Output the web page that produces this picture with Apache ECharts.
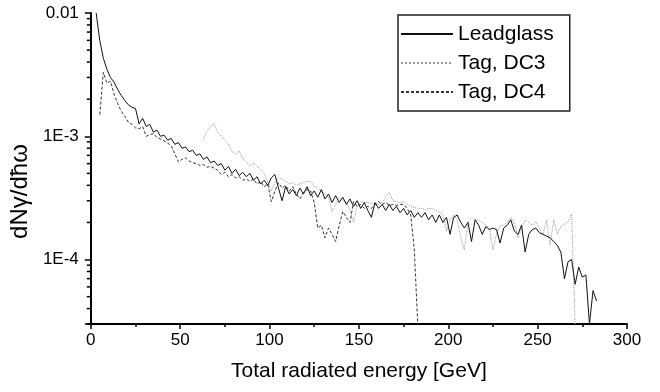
<!DOCTYPE html>
<html>
<head>
<meta charset="utf-8">
<script src="https://cdn.jsdelivr.net/npm/echarts@6/dist/echarts.min.js"></script>
<style>
html,body{margin:0;padding:0;background:#fff;}
#chart{width:660px;height:392px;}
</style>
</head>
<body>
<div id="chart"></div>
<script>
// ---- data ----
const seriesNames = ['Leadglass', 'Tag, DC3', 'Tag, DC4'];
const xTicks = [0, 50, 100, 150, 200, 250, 300];
const yTickLabels = {'-2': '0.01', '-3': '1E-3', '-4': '1E-4'};

const leadE = [
  3,5,7,9,11,13,15,17,19,21,
  23,25,27,29,31,33,35,37,39,41,
  43,45,47,49,51,53,55,57,59,61,
  63,65,67,69,71,73,75,77,79,81,
  83,85,87,89,91,93,95,97,99,101,
  103,105,107,109,111,113,115,117,119,121,
  123,125,127,129,131,133,135,137,139,141,
  143,145,147,149,151,153,155,157,159,161,
  163,165,167,169,171,173,175,177,179,181,
  183,185,187,189,191,193,195,197,199,201,
  203,205,207,209,211,213,215,217,219,221,
  223,225,227,229,231,233,235,237,239,241,
  243,245,247,249,251,253,255,257,259,261,
  263,265,267,269,271,273,275,277,279,281,
  283
];
const leadglass = [
  1.00e-2,6.0e-3,4.3e-3,3.5e-3,3.0e-3,2.75e-3,2.4e-3,2.15e-3,1.95e-3,1.80e-3,
  1.72e-3,1.68e-3,1.26e-3,1.40e-3,1.20e-3,1.25e-3,1.08e-3,1.12e-3,1.00e-3,1.02e-3,
  9.3e-4,9.6e-4,8.6e-4,8.9e-4,8.0e-4,8.2e-4,7.5e-4,7.7e-4,7.0e-4,7.2e-4,
  6.5e-4,6.8e-4,6.1e-4,6.3e-4,5.8e-4,6.0e-4,5.3e-4,5.7e-4,5.0e-4,5.4e-4,
  4.8e-4,5.1e-4,4.7e-4,5.0e-4,4.4e-4,4.7e-4,4.1e-4,4.4e-4,4.0e-4,4.6e-4,
  4.9e-4,3.8e-4,3.0e-4,3.9e-4,3.4e-4,3.7e-4,3.3e-4,3.8e-4,3.4e-4,3.9e-4,
  3.3e-4,3.6e-4,3.2e-4,3.7e-4,3.1e-4,3.4e-4,2.9e-4,3.3e-4,2.9e-4,3.2e-4,
  2.8e-4,3.1e-4,2.7e-4,3.0e-4,2.6e-4,2.9e-4,2.5e-4,2.2e-4,2.9e-4,2.6e-4,
  2.8e-4,2.5e-4,2.8e-4,2.5e-4,2.7e-4,2.4e-4,2.6e-4,2.3e-4,2.5e-4,2.2e-4,
  2.4e-4,2.2e-4,2.4e-4,2.1e-4,2.3e-4,2.0e-4,2.3e-4,2.0e-4,2.2e-4,1.6e-4,
  2.2e-4,2.3e-4,2.0e-4,1.8e-4,2.0e-4,1.4e-4,2.1e-4,1.9e-4,1.6e-4,1.85e-4,
  1.75e-4,1.8e-4,1.75e-4,1.36e-4,1.8e-4,1.9e-4,2.1e-4,1.7e-4,1.6e-4,1.9e-4,
  1.15e-4,1.6e-4,1.75e-4,1.8e-4,1.65e-4,1.6e-4,1.55e-4,1.5e-4,1.4e-4,1.3e-4,
  1.15e-4,7.0e-5,9.6e-5,1.0e-4,6.3e-5,8.7e-5,7.2e-5,7.5e-5,3.0e-5,5.6e-5,
  4.6e-5
];

const dc3E = [
  63,65,67,69,71,73,75,77,79,81,
  83,85,87,89,91,93,95,97,99,101,
  103,105,107,109,111,113,115,117,119,121,
  123,125,127,129,131,133,135,137,139,141,
  143,145,147,149,151,153,155,157,159,161,
  163,165,167,169,171,173,175,177,179,181,
  183,185,187,189,191,193,195,197,199,201,
  203,205,207,209,211,213,215,217,219,221,
  223,225,227,229,231,233,235,237,239,241,
  243,245,247,249,251,253,255,257,259,261,
  263,265,267,269,271
];
const tagDC3 = [
  9.5e-4,1.1e-3,1.2e-3,1.26e-3,1.08e-3,1.0e-3,9.3e-4,8.7e-4,7.5e-4,7.2e-4,
  7.6e-4,6.6e-4,6.2e-4,5.7e-4,6.1e-4,5.7e-4,5.4e-4,5.0e-4,4.3e-4,3.6e-4,
  4.2e-4,4.6e-4,4.5e-4,4.3e-4,4.1e-4,4.2e-4,4.0e-4,4.1e-4,4.2e-4,4.3e-4,
  4.3e-4,3.9e-4,3.8e-4,3.6e-4,3.4e-4,3.2e-4,2.45e-4,2.8e-4,3.2e-4,3.0e-4,
  2.95e-4,2.5e-4,2.0e-4,2.7e-4,2.95e-4,2.9e-4,2.9e-4,2.85e-4,2.8e-4,2.8e-4,
  2.9e-4,3.2e-4,3.5e-4,3.0e-4,2.95e-4,2.9e-4,2.95e-4,2.8e-4,2.7e-4,2.65e-4,
  2.6e-4,2.6e-4,2.55e-4,2.6e-4,2.6e-4,2.5e-4,2.45e-4,2.3e-4,1.7e-4,2.1e-4,
  2.3e-4,2.1e-4,1.5e-4,1.2e-4,2.0e-4,2.2e-4,2.1e-4,2.1e-4,2.0e-4,1.9e-4,
  1.8e-4,1.2e-4,1.6e-4,1.9e-4,1.9e-4,2.0e-4,2.2e-4,2.0e-4,1.5e-4,1.8e-4,
  2.1e-4,2.0e-4,1.9e-4,2.03e-4,1.8e-4,1.6e-4,2.1e-4,1.3e-4,2.1e-4,1.6e-4,
  1.85e-4,1.95e-4,2.03e-4,2.35e-4,2.8e-5
];

const dc4E = [
  5,7,9,11,13,15,17,19,21,23,
  25,27,29,31,33,35,37,39,41,43,
  45,47,49,51,53,55,57,59,61,63,
  65,67,69,71,73,75,77,79,81,83,
  85,87,89,91,93,95,97,99,101,103,
  105,107,109,111,113,115,117,119,121,123,
  125,127,129,131,133,135,137,139,141,143,
  145,147,149,151,153,155,157,159,161,163,
  165,167,169,171,173,175,177,179,181,183
];
const tagDC4 = [
  1.5e-3,3.3e-3,2.7e-3,2.8e-3,2.2e-3,1.85e-3,1.6e-3,1.45e-3,1.3e-3,1.25e-3,
  1.17e-3,1.15e-3,1.2e-3,1.0e-3,1.03e-3,1.05e-3,9.8e-4,9.5e-4,9.2e-4,8.8e-4,
  8.4e-4,7.2e-4,6.2e-4,6.5e-4,6.7e-4,6.3e-4,6.1e-4,6.0e-4,5.8e-4,5.9e-4,
  5.6e-4,5.7e-4,5.5e-4,5.3e-4,4.9e-4,5.1e-4,4.7e-4,4.9e-4,4.6e-4,4.7e-4,
  4.4e-4,4.5e-4,4.3e-4,4.5e-4,4.1e-4,4.3e-4,3.9e-4,4.1e-4,2.95e-4,3.6e-4,
  4.2e-4,3.8e-4,4.0e-4,3.6e-4,3.9e-4,3.4e-4,3.1e-4,3.5e-4,3.7e-4,3.6e-4,
  2.9e-4,1.8e-4,1.9e-4,1.5e-4,1.8e-4,1.6e-4,1.4e-4,1.9e-4,2.45e-4,2.2e-4,
  2.0e-4,2.95e-4,2.7e-4,2.8e-4,2.6e-4,2.7e-4,2.6e-4,2.8e-4,2.95e-4,2.8e-4,
  2.9e-4,2.75e-4,2.8e-4,2.75e-4,2.8e-4,2.8e-4,2.6e-4,2.3e-4,1.2e-4,2.8e-5
];

// ---- chart ----
const FONT = '"Liberation Sans", Arial, Helvetica, sans-serif';
const zip = (xs, ys) => xs.map((x, i) => [x, ys[i]]);
const chart = echarts.init(document.getElementById('chart'), null, {renderer: 'canvas'});
const Y_MIN = 3e-5, Y_MAX = 1e-2;

chart.setOption({
  animation: false,
  backgroundColor: '#fff',
  textStyle: {fontFamily: FONT, color: '#000'},
  grid: {left: 90, right: 33, top: 13, bottom: 68, containLabel: false},
  legend: {
    orient: 'vertical',
    left: 398, top: 15,
    data: seriesNames,
    backgroundColor: '#fff',
    borderColor: '#222', borderWidth: 1.5, borderRadius: 0,
    padding: [8, 16, 8, 2],
    itemGap: 7, itemWidth: 52, itemHeight: 14,
    itemStyle: {opacity: 0, borderWidth: 0},
    lineStyle: {opacity: 1},
    textStyle: {fontFamily: FONT, fontSize: 21, color: '#000', lineHeight: 22},
    selectedMode: false
  },
  xAxis: {
    type: 'value', min: 0, max: 300, interval: 50,
    name: 'Total radiated energy [GeV]', nameLocation: 'middle', nameGap: 37,
    nameTextStyle: {fontFamily: FONT, fontSize: 21, color: '#000'},
    axisLine: {show: true, onZero: false, lineStyle: {color: '#000', width: 2}},
    axisTick: {show: true, inside: false, length: 5, lineStyle: {color: '#000', width: 1.5}},
    minorTick: {show: true, splitNumber: 2, length: 3, lineStyle: {color: '#000', width: 1.5}},
    splitLine: {show: false},
    axisLabel: {fontFamily: FONT, fontSize: 17, color: '#000', margin: 8,
      formatter: v => (xTicks.indexOf(v) >= 0 ? String(v) : '')}
  },
  yAxis: {
    type: 'log', logBase: 10, min: Y_MIN, max: Y_MAX,
    name: 'dNγ/dħω', nameLocation: 'middle', nameGap: 57, nameRotate: 90,
    nameTextStyle: {fontFamily: FONT, fontSize: 24, color: '#000', padding: [0, 46, 0, 0]},
    axisLine: {show: true, onZero: false, lineStyle: {color: '#000', width: 2}},
    axisTick: {show: true, inside: false, length: 6, lineStyle: {color: '#000', width: 1.5}},
    minorTick: {show: false},
    splitLine: {show: false},
    axisLabel: {fontFamily: FONT, fontSize: 17, color: '#000', margin: 12,
      formatter: v => {
        const e = Math.log10(v);
        const r = Math.round(e);
        if (Math.abs(e - r) > 1e-6) return '';
        return yTickLabels[String(r)] || ('1E' + r);
      }}
  },
  series: [
    {name: 'Tag, DC3', type: 'line', data: zip(dc3E, tagDC3), symbol: 'none', showSymbol: false,
      clip: true, z: 2, lineStyle: {color: '#9a9a9a', width: 1, type: 'dotted'}, itemStyle: {color: '#9a9a9a'}},
    {name: 'Tag, DC4', type: 'line', data: zip(dc4E, tagDC4), symbol: 'none', showSymbol: false,
      clip: true, z: 3, lineStyle: {color: '#333', width: 1, type: [3, 2]}, itemStyle: {color: '#333'}},
    {name: 'Leadglass', type: 'line', data: zip(leadE, leadglass), symbol: 'none', showSymbol: false,
      clip: true, z: 4, lineStyle: {color: '#111', width: 1}, itemStyle: {color: '#111'}}
  ]
});

// minor ticks of the log y axis at 2..9 x 10^n, placed through the axis scale
const minorVals = [];
for (let n = -5; n <= -3; n++) {
  for (let m = 2; m <= 9; m++) {
    const v = m * Math.pow(10, n);
    if (v >= Y_MIN * 0.999 && v <= Y_MAX) minorVals.push(v);
  }
}
const x0 = chart.convertToPixel({gridIndex: 0}, [0, Y_MAX])[0];
const ticks = minorVals.map(v => {
  const y = chart.convertToPixel({yAxisIndex: 0}, v);
  return {type: 'line', shape: {x1: x0 - 4, y1: y, x2: x0, y2: y},
    style: {stroke: '#000', lineWidth: 1.5}, silent: true, z: 10};
});
chart.setOption({graphic: ticks});
</script>
</body>
</html>
